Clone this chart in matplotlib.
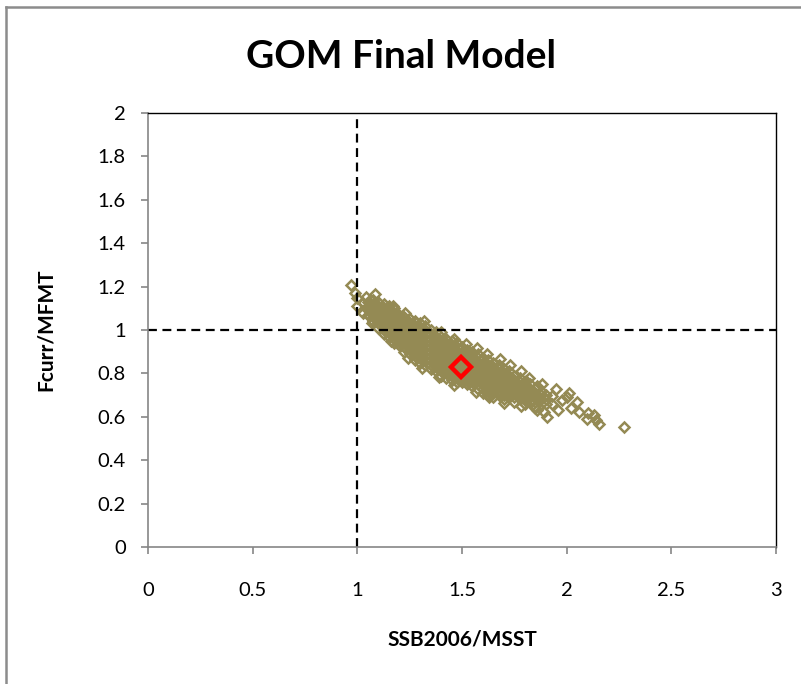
import matplotlib
matplotlib.use("Agg")
import matplotlib.pyplot as plt
from matplotlib.lines import Line2D

plt.rcParams["font.family"] = ["Lato", "DejaVu Sans"]

# dense core of the cloud: one column of y values per x
core_x = [1.050, 1.075, 1.100, 1.125, 1.150, 1.175, 1.200, 1.225, 1.250, 1.275,
          1.300, 1.325, 1.350, 1.375, 1.400, 1.425, 1.450, 1.475, 1.500, 1.525,
          1.550, 1.575, 1.600, 1.625, 1.650, 1.675, 1.700, 1.725, 1.750, 1.775,
          1.800, 1.825, 1.850, 1.875, 1.900]
core_y = [
    [1.13, 1.11, 1.09, 1.07],
    [1.14, 1.12, 1.10, 1.08, 1.06, 1.04],
    [1.13, 1.11, 1.09, 1.07, 1.05, 1.03, 1.01],
    [1.12, 1.10, 1.08, 1.06, 1.04, 1.02, 1.00, 0.98],
    [1.11, 1.09, 1.07, 1.05, 1.03, 1.01, 0.99, 0.97],
    [1.10, 1.08, 1.06, 1.04, 1.02, 1.00, 0.98, 0.96, 0.94],
    [1.07, 1.05, 1.03, 1.01, 0.99, 0.97, 0.95, 0.93],
    [1.06, 1.04, 1.02, 1.00, 0.98, 0.96, 0.94, 0.92, 0.90],
    [1.05, 1.03, 1.01, 0.99, 0.97, 0.95, 0.93, 0.91, 0.89],
    [1.04, 1.02, 1.00, 0.98, 0.96, 0.94, 0.92, 0.90, 0.88, 0.86],
    [1.03, 1.01, 0.99, 0.97, 0.95, 0.93, 0.91, 0.89, 0.87, 0.85],
    [1.02, 1.00, 0.98, 0.96, 0.94, 0.92, 0.90, 0.88, 0.86, 0.84],
    [1.00, 0.98, 0.96, 0.94, 0.92, 0.90, 0.88, 0.86, 0.84, 0.82],
    [0.99, 0.97, 0.95, 0.93, 0.91, 0.89, 0.87, 0.85, 0.83, 0.81],
    [0.97, 0.95, 0.93, 0.91, 0.89, 0.87, 0.85, 0.83, 0.81, 0.79],
    [0.96, 0.94, 0.92, 0.90, 0.88, 0.86, 0.84, 0.82, 0.80, 0.78],
    [0.95, 0.93, 0.91, 0.89, 0.87, 0.85, 0.83, 0.81, 0.79, 0.77],
    [0.94, 0.92, 0.90, 0.88, 0.86, 0.84, 0.82, 0.80, 0.78, 0.76],
    [0.92, 0.90, 0.88, 0.86, 0.84, 0.82, 0.80, 0.78, 0.76],
    [0.91, 0.89, 0.87, 0.85, 0.83, 0.81, 0.79, 0.77, 0.75],
    [0.90, 0.88, 0.86, 0.84, 0.82, 0.80, 0.78, 0.76, 0.74],
    [0.89, 0.87, 0.85, 0.83, 0.81, 0.79, 0.77, 0.75, 0.73],
    [0.87, 0.85, 0.83, 0.81, 0.79, 0.77, 0.75, 0.73, 0.71],
    [0.86, 0.84, 0.82, 0.80, 0.78, 0.76, 0.74, 0.72, 0.70],
    [0.85, 0.83, 0.81, 0.79, 0.77, 0.75, 0.73, 0.71, 0.69],
    [0.84, 0.82, 0.80, 0.78, 0.76, 0.74, 0.72, 0.70],
    [0.82, 0.80, 0.78, 0.76, 0.74, 0.72, 0.70, 0.68],
    [0.81, 0.79, 0.77, 0.75, 0.73, 0.71, 0.69],
    [0.79, 0.77, 0.75, 0.73, 0.71, 0.69, 0.67],
    [0.78, 0.76, 0.74, 0.72, 0.70, 0.68],
    [0.76, 0.74, 0.72, 0.70, 0.68, 0.66],
    [0.75, 0.73, 0.71, 0.69, 0.67],
    [0.73, 0.71, 0.69, 0.67, 0.65],
    [0.72, 0.70, 0.68, 0.66],
    [0.70, 0.68, 0.66],
]

# scattered points round the edges of the cloud
edge_x = [0.968, 0.987, 1.000, 0.997, 1.025, 1.059, 1.083, 1.025, 1.068, 1.040,
          1.170, 1.230, 1.320, 1.400, 1.460, 1.520, 1.570, 1.620, 1.680, 1.730,
          1.780, 1.160, 1.240, 1.311, 1.392, 1.464, 1.569, 1.630, 1.700, 1.780,
          1.850, 1.807, 1.860, 1.950, 2.012, 1.980, 2.050, 2.020, 2.000, 1.930,
          1.908, 1.860, 2.100, 2.130, 2.141, 2.155, 2.098, 2.275, 2.060, 1.960,
          1.890, 1.930, 1.880, 1.820]
edge_y = [1.207, 1.170, 1.147, 1.111, 1.124, 1.115, 1.166, 1.078, 1.032, 1.150,
          1.110, 1.080, 1.040, 0.990, 0.960, 0.935, 0.915, 0.890, 0.865, 0.840,
          0.810, 0.950, 0.870, 0.825, 0.784, 0.746, 0.714, 0.690, 0.665, 0.650,
          0.640, 0.765, 0.742, 0.728, 0.710, 0.677, 0.668, 0.640, 0.690, 0.660,
          0.599, 0.630, 0.617, 0.608, 0.585, 0.567, 0.590, 0.553, 0.620, 0.630,
          0.620, 0.695, 0.750, 0.780]

# deterministic (point) estimate
point_x = [1.497]
point_y = [0.829]

xs = []
ys = []
for x, col in zip(core_x, core_y):
    for y in col:
        xs.append(x)
        ys.append(y)
xs += edge_x
ys += edge_y

fig = plt.figure(figsize=(8.01, 6.84), dpi=100)
ax = fig.add_axes([0.1848, 0.2003, 0.7840, 0.6345])

ax.plot(xs, ys, linestyle="none", marker="D", markersize=5.2,
        markerfacecolor="none", markeredgecolor="#948A54", markeredgewidth=1.8)
ax.plot(point_x, point_y, linestyle="none", marker="D", markersize=10.5,
        markerfacecolor="none", markeredgecolor="#FF0000", markeredgewidth=3.2)

ax.axvline(1, color="black", linestyle=(0, (4, 2.5)), linewidth=1.6)
ax.axhline(1, color="black", linestyle=(0, (4, 2.5)), linewidth=1.6)

ax.set_xlim(0, 3)
ax.set_ylim(0, 2)
ax.set_xticks([0, 0.5, 1, 1.5, 2, 2.5, 3])
ax.set_xticklabels(["0", "0.5", "1", "1.5", "2", "2.5", "3"])
ax.set_yticks([0, 0.2, 0.4, 0.6, 0.8, 1, 1.2, 1.4, 1.6, 1.8, 2])
ax.set_yticklabels(["0", "0.2", "0.4", "0.6", "0.8", "1", "1.2", "1.4", "1.6", "1.8", "2"])

for s in ["left", "bottom"]:
    ax.spines[s].set_color("#868686")
    ax.spines[s].set_linewidth(1.2)
for s in ["top", "right"]:
    ax.spines[s].set_color("black")
    ax.spines[s].set_linewidth(1.0)
ax.tick_params(direction="out", length=5, width=1.2, color="#868686",
               labelsize=14.5)
ax.tick_params(axis="x", pad=20)
ax.tick_params(axis="y", pad=11)

ax.set_xlabel("SSB2006/MSST", fontsize=15, fontweight="bold", labelpad=22)
ax.set_ylabel("Fcurr/MFMT", fontsize=15, fontweight="bold", labelpad=30)
fig.text(0.5, 0.918, "GOM Final Model", ha="center", va="center",
         fontsize=28, fontweight="bold")

# outer chart border (left and top edges only)
fig.add_artist(Line2D([0.008, 0.008], [0.0, 0.990], color="#8C8C8C", linewidth=1.8))
fig.add_artist(Line2D([0.007, 1.0], [0.990, 0.990], color="#8C8C8C", linewidth=1.8))

fig.savefig("out.png", dpi=100)
